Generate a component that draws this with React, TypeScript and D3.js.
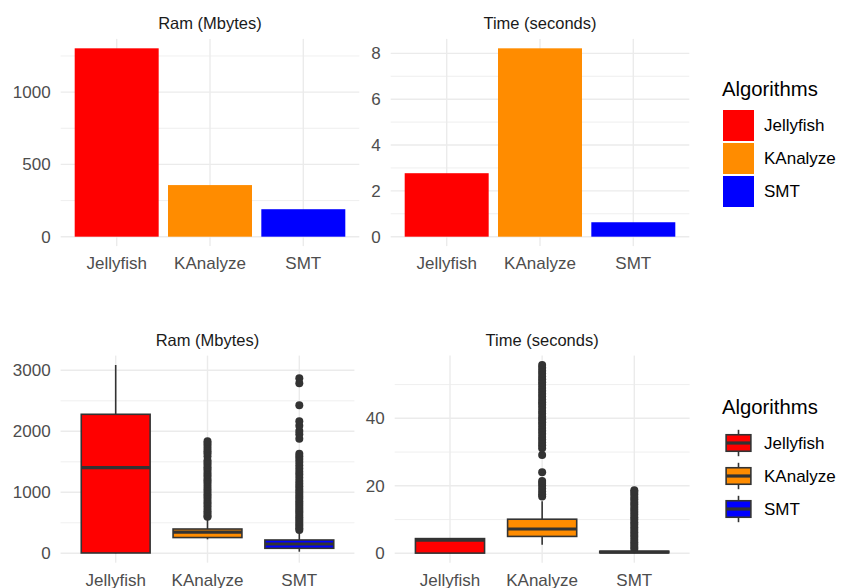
import React from 'react';
import * as d3 from 'd3';

// categories and colours
const algorithms = ['Jellyfish', 'KAnalyze', 'SMT'];
const algoColors = ['#FF0000', '#FF8C00', '#0000FF'];

// top row: mean values (bars)
const ramMean = [1303, 357, 190];
const timeMean = [2.77, 8.22, 0.63];

// bottom row: boxplot summaries
const ramWhiskerLow = [0, 229, 26];
const ramQ1 = [5, 258, 82];
const ramMedian = [1403, 346, 152];
const ramQ3 = [2279, 398, 218];
const ramWhiskerHigh = [3087, 546, 330];

const timeWhiskerLow = [0, 2.5, 0];
const timeQ1 = [0.05, 5.0, 0.15];
const timeMedian = [3.9, 7.2, 0.35];
const timeQ3 = [4.35, 10.1, 0.6];
const timeWhiskerHigh = [4.4, 15.4, 1.2];

// outliers
const kanalyzeRamOutliers = [598, 612, 655, 690, 731, 770, 812, 845, 889, 930, 968, 1010, 1052, 1090,
  1134, 1175, 1210, 1256, 1290, 1334, 1378, 1410, 1452, 1488, 1525, 1590, 1640, 1672, 1715, 1760, 1802, 1836];
const smtRamOutliers = [382, 410, 447, 481, 518, 556, 592, 628, 667, 703, 741, 778, 816, 852, 893, 931,
  972, 1012, 1053, 1098, 1141, 1187, 1238, 1292, 1338, 1391, 1442, 1497, 1548, 1592, 1634,
  1878, 1952, 2004, 2092, 2163, 2428, 2790, 2872];
const kanalyzeTimeOutliers = [16.8, 17.5, 18.3, 19.2, 20.1, 20.8, 21.4, 24.0, 29.1,
  31.1, 32.0, 32.8, 33.7, 34.5, 35.4, 36.3, 37.1, 38.0, 38.8, 39.7, 40.5, 41.4, 42.2, 43.1, 44.0,
  44.8, 45.6, 46.5, 47.3, 48.2, 49.0, 49.9, 50.7, 51.6, 52.4, 53.3, 54.1, 55.0, 55.8];
const smtTimeOutliers = [1.3, 1.9, 2.6, 3.3, 4.0, 4.8, 5.5, 6.2, 7.0, 7.7, 8.5, 9.2, 10.0, 10.7, 11.5,
  12.2, 13.0, 13.7, 14.5, 15.2, 16.0, 16.7, 17.5, 18.2, 18.7];
const ramOutliers = [[], kanalyzeRamOutliers, smtRamOutliers];
const timeOutliers = [[], kanalyzeTimeOutliers, smtTimeOutliers];

// tick values
const ramBarTicks = [0, 500, 1000];
const ramBarMinor = [250, 750, 1250];
const timeBarTicks = [0, 2, 4, 6, 8];
const timeBarMinor = [1, 3, 5, 7];
const ramBoxTicks = [0, 1000, 2000, 3000];
const ramBoxMinor = [500, 1500, 2500];
const timeBoxTicks = [0, 20, 40];
const timeBoxMinor = [10, 30, 50];

const FONT = "'Liberation Sans', Arial, Helvetica, sans-serif";
const GRID = '#EBEBEB';
const DARK = '#333333';

type Box = { lo: number[]; q1: number[]; med: number[]; q3: number[]; hi: number[]; out: number[][] };

function Panel(props: {
  x0: number; x1: number; y0: number; y1: number; title: string; titleY: number; labelY: number;
  max: number; ticks: number[]; minor: number[]; bars?: number[]; box?: Box;
}) {
  const { x0, x1, y0, y1, title, titleY, labelY, max, ticks, minor, bars, box } = props;
  const x = d3.scalePoint<string>().domain(algorithms).range([x0, x1]).padding(0.6);
  const y = d3.scaleLinear().domain([-0.05 * max, 1.05 * max]).range([y1, y0]);
  const step = x.step();
  return (
    <g>
      {minor.map(t => (
        <line key={'m' + t} x1={x0} x2={x1} y1={y(t)} y2={y(t)} stroke={GRID} strokeWidth={0.8} />
      ))}
      {ticks.map(t => (
        <line key={'t' + t} x1={x0} x2={x1} y1={y(t)} y2={y(t)} stroke={GRID} strokeWidth={1.4} />
      ))}
      {algorithms.map(a => (
        <line key={'v' + a} x1={x(a)} x2={x(a)} y1={y0} y2={y1} stroke={GRID} strokeWidth={1.4} />
      ))}
      {bars && algorithms.map((a, i) => (
        <rect key={'b' + a} x={x(a)! - 0.45 * step} width={0.9 * step}
          y={y(bars[i])} height={y(0) - y(bars[i])} fill={algoColors[i]} />
      ))}
      {box && algorithms.map((a, i) => {
        const cx = x(a)!;
        const w = 0.75 * step;
        return (
          <g key={'x' + a}>
            <line x1={cx} x2={cx} y1={y(box.q3[i])} y2={y(box.hi[i])} stroke={DARK} strokeWidth={1.6} />
            <line x1={cx} x2={cx} y1={y(box.q1[i])} y2={y(box.lo[i])} stroke={DARK} strokeWidth={1.6} />
            <rect x={cx - w / 2} width={w} y={y(box.q3[i])} height={y(box.q1[i]) - y(box.q3[i])}
              fill={algoColors[i]} stroke={DARK} strokeWidth={1.6} />
            <line x1={cx - w / 2} x2={cx + w / 2} y1={y(box.med[i])} y2={y(box.med[i])}
              stroke={DARK} strokeWidth={3.2} />
            {box.out[i].map((v, j) => (
              <circle key={j} cx={cx} cy={y(v)} r={4} fill={DARK} />
            ))}
          </g>
        );
      })}
      {ticks.map(t => (
        <text key={'l' + t} x={x0 - 10} y={y(t)} dy="0.35em" textAnchor="end"
          fontSize={17} fill="#4D4D4D">{t}</text>
      ))}
      {algorithms.map(a => (
        <text key={'c' + a} x={x(a)} y={labelY} textAnchor="middle" fontSize={17} fill="#4D4D4D">{a}</text>
      ))}
      <text x={(x0 + x1) / 2} y={titleY} textAnchor="middle" fontSize={16.5} fill="#1A1A1A">{title}</text>
    </g>
  );
}

function Legend(props: { top: number; boxKeys: boolean }) {
  const { top, boxKeys } = props;
  const left = 722;
  const key = 33;
  return (
    <g>
      <text x={left} y={top} fontSize={20.3} fill="#000">Algorithms</text>
      {algorithms.map((a, i) => {
        const ky = top + 13 + i * key;
        return (
          <g key={a}>
            {boxKeys ? (
              <g>
                <line x1={left + key / 2} x2={left + key / 2} y1={ky + key * 0.1} y2={ky + key * 0.9}
                  stroke={DARK} strokeWidth={1.6} />
                <rect x={left + key * 0.125} width={key * 0.75} y={ky + key * 0.25} height={key * 0.5}
                  fill={algoColors[i]} stroke={DARK} strokeWidth={1.6} />
                <line x1={left + key * 0.125} x2={left + key * 0.875} y1={ky + key / 2} y2={ky + key / 2}
                  stroke={DARK} strokeWidth={3.2} />
              </g>
            ) : (
              <rect x={left + 1} y={ky + 1} width={key - 2} height={key - 2} fill={algoColors[i]} />
            )}
            <text x={764} y={ky + key / 2} dy="0.35em" fontSize={17} fill="#000">{a}</text>
          </g>
        );
      })}
    </g>
  );
}

export default function App() {
  const ramBox: Box = { lo: ramWhiskerLow, q1: ramQ1, med: ramMedian, q3: ramQ3, hi: ramWhiskerHigh, out: ramOutliers };
  const timeBox: Box = { lo: timeWhiskerLow, q1: timeQ1, med: timeMedian, q3: timeQ3, hi: timeWhiskerHigh, out: timeOutliers };
  const ramBoxMax = d3.max([...ramWhiskerHigh, ...ramOutliers.flat()])!;
  const timeBoxMax = d3.max([...timeWhiskerHigh, ...timeOutliers.flat()])!;
  return (
    <svg width={841} height={588} fontFamily={FONT}
      style={{ position: 'absolute', left: 0, top: 0, background: '#fff' }}>
      <Panel x0={60.7} x1={359.3} y0={38.9} y1={246.1} title="Ram (Mbytes)" titleY={28.5} labelY={269}
        max={d3.max(ramMean)!} ticks={ramBarTicks} minor={ramBarMinor} bars={ramMean} />
      <Panel x0={390.7} x1={689.3} y0={38.9} y1={246.1} title="Time (seconds)" titleY={28.5} labelY={269}
        max={d3.max(timeMean)!} ticks={timeBarTicks} minor={timeBarMinor} bars={timeMean} />
      <Panel x0={60.6} x1={354.4} y0={355.6} y1={562.7} title="Ram (Mbytes)" titleY={345.5} labelY={585.5}
        max={ramBoxMax} ticks={ramBoxTicks} minor={ramBoxMinor} box={ramBox} />
      <Panel x0={394.7} x1={689.6} y0={355.6} y1={562.7} title="Time (seconds)" titleY={345.5} labelY={585.5}
        max={timeBoxMax} ticks={timeBoxTicks} minor={timeBoxMinor} box={timeBox} />
      <Legend top={96} boxKeys={false} />
      <Legend top={413.5} boxKeys={true} />
    </svg>
  );
}
